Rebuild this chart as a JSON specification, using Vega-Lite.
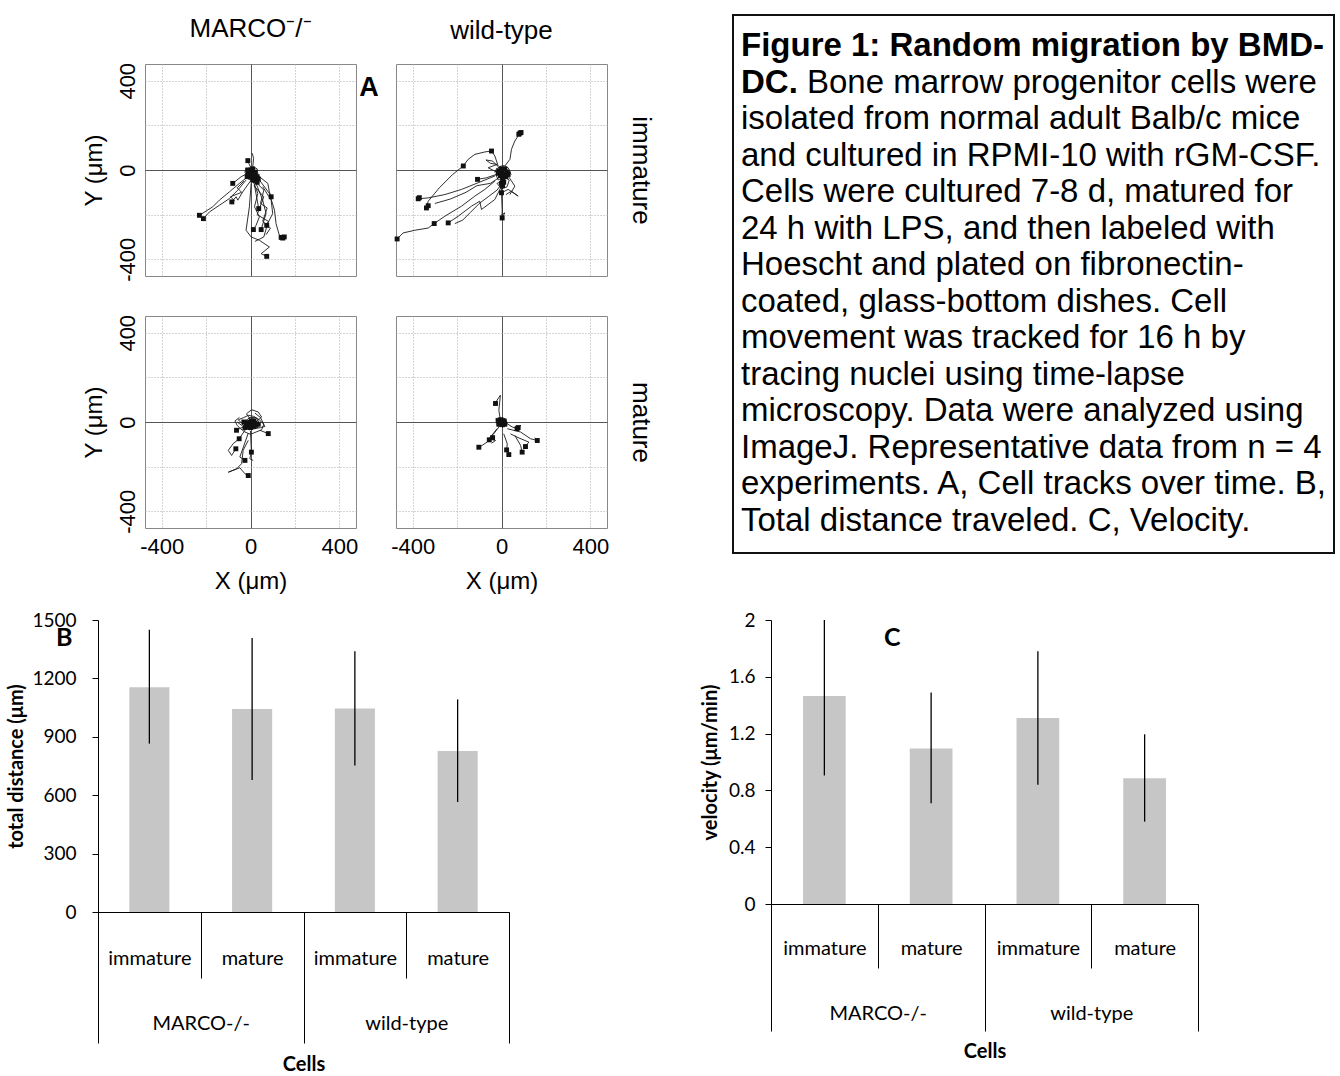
{
 "$schema": "https://vega.github.io/schema/vega-lite/v6.json",
 "padding": {"left": 5, "top": 13, "right": 0, "bottom": 0},
 "background": "white",
 "config": {"view": {"stroke": null}, "font": "Liberation Sans", "axis": {"labelColor": "black", "titleColor": "black", "titleFontWeight": "normal"}},
 "datasets": {
  "tracks": [
   {"p":"MI","t":1,"x":-12,"y":-30},{"p":"MI","t":1,"x":-50,"y":-60},{"p":"MI","t":1,"x":-95,"y":-98},{"p":"MI","t":1,"x":-140,"y":-135},{"p":"MI","t":1,"x":-170,"y":-165},{"p":"MI","t":1,"x":-230,"y":-203},
   {"p":"MI","t":2,"x":-20,"y":-45},{"p":"MI","t":2,"x":-57,"y":-90},{"p":"MI","t":2,"x":-95,"y":-128},{"p":"MI","t":2,"x":-140,"y":-158},{"p":"MI","t":2,"x":-185,"y":-188},{"p":"MI","t":2,"x":-212,"y":-218},
   {"p":"MI","t":3,"x":-12,"y":-15},{"p":"MI","t":3,"x":-42,"y":-30},{"p":"MI","t":3,"x":-80,"y":-60},
   {"p":"MI","t":4,"x":3,"y":-45},{"p":"MI","t":4,"x":-35,"y":-98},{"p":"MI","t":4,"x":-57,"y":-135},{"p":"MI","t":4,"x":-65,"y":-120},{"p":"MI","t":4,"x":-84,"y":-143},
   {"p":"MI","t":5,"x":3,"y":8},{"p":"MI","t":5,"x":-8,"y":30},{"p":"MI","t":5,"x":-12,"y":42},
   {"p":"MI","t":6,"x":10,"y":15},{"p":"MI","t":6,"x":14,"y":52},{"p":"MI","t":6,"x":8,"y":75},
   {"p":"MI","t":7,"x":10,"y":-45},{"p":"MI","t":7,"x":33,"y":-105},{"p":"MI","t":7,"x":18,"y":-165},{"p":"MI","t":7,"x":40,"y":-210},{"p":"MI","t":7,"x":25,"y":-248},{"p":"MI","t":7,"x":13,"y":-267},
   {"p":"MI","t":8,"x":25,"y":-60},{"p":"MI","t":8,"x":55,"y":-135},{"p":"MI","t":8,"x":70,"y":-195},{"p":"MI","t":8,"x":48,"y":-267},
   {"p":"MI","t":9,"x":40,"y":-45},{"p":"MI","t":9,"x":85,"y":-105},{"p":"MI","t":9,"x":108,"y":-180},{"p":"MI","t":9,"x":115,"y":-240},{"p":"MI","t":9,"x":130,"y":-293},{"p":"MI","t":9,"x":145,"y":-305},
   {"p":"MI","t":10,"x":3,"y":-60},{"p":"MI","t":10,"x":-5,"y":-165},{"p":"MI","t":10,"x":-20,"y":-270},{"p":"MI","t":10,"x":3,"y":-300},{"p":"MI","t":10,"x":40,"y":-315},{"p":"MI","t":10,"x":85,"y":-345},{"p":"MI","t":10,"x":48,"y":-375},{"p":"MI","t":10,"x":73,"y":-387},
   {"p":"MI","t":11,"x":55,"y":-75},{"p":"MI","t":11,"x":93,"y":-135},{"p":"MI","t":11,"x":100,"y":-195},{"p":"MI","t":11,"x":73,"y":-248},
   {"p":"MI","t":12,"x":18,"y":-68},{"p":"MI","t":12,"x":37,"y":-173},
   {"p":"MI","t":13,"x":40,"y":-30},{"p":"MI","t":13,"x":78,"y":-60},{"p":"MI","t":13,"x":85,"y":-98},{"p":"MI","t":13,"x":93,"y":-120},
   {"p":"MI","t":14,"x":0,"y":0},{"p":"MI","t":14,"x":10,"y":-12},{"p":"MI","t":14,"x":-8,"y":-20},{"p":"MI","t":14,"x":15,"y":-30},{"p":"MI","t":14,"x":-5,"y":-8},{"p":"MI","t":14,"x":20,"y":-5},{"p":"MI","t":14,"x":5,"y":-25},{"p":"MI","t":14,"x":-15,"y":-15},{"p":"MI","t":14,"x":25,"y":-20},{"p":"MI","t":14,"x":0,"y":-35},{"p":"MI","t":14,"x":12,"y":-2},
   {"p":"MI","t":15,"x":5,"y":-10},{"p":"MI","t":15,"x":-12,"y":-5},{"p":"MI","t":15,"x":-18,"y":-25},{"p":"MI","t":15,"x":8,"y":-40},{"p":"MI","t":15,"x":22,"y":-35},{"p":"MI","t":15,"x":30,"y":-15},{"p":"MI","t":15,"x":10,"y":-20},{"p":"MI","t":15,"x":-5,"y":-30},{"p":"MI","t":15,"x":18,"y":-8},
   {"p":"MI","t":16,"x":20,"y":-40},{"p":"MI","t":16,"x":35,"y":-50},{"p":"MI","t":16,"x":25,"y":-60},{"p":"MI","t":16,"x":10,"y":-55},{"p":"MI","t":16,"x":30,"y":-35},{"p":"MI","t":16,"x":40,"y":-45},{"p":"MI","t":16,"x":15,"y":-50},{"p":"MI","t":16,"x":5,"y":-45},
   {"p":"MI","t":17,"x":-10,"y":-10},{"p":"MI","t":17,"x":-20,"y":0},{"p":"MI","t":17,"x":-5,"y":5},{"p":"MI","t":17,"x":10,"y":0},{"p":"MI","t":17,"x":0,"y":-15},{"p":"MI","t":17,"x":-15,"y":-25},{"p":"MI","t":17,"x":5,"y":-5},{"p":"MI","t":17,"x":20,"y":-25},
   {"p":"MI","t":18,"x":30,"y":-60},{"p":"MI","t":18,"x":60,"y":-90},{"p":"MI","t":18,"x":45,"y":-150},{"p":"MI","t":18,"x":75,"y":-170},{"p":"MI","t":18,"x":55,"y":-230},{"p":"MI","t":18,"x":90,"y":-260},{"p":"MI","t":18,"x":70,"y":-290},
   {"p":"MI","t":19,"x":-30,"y":-50},{"p":"MI","t":19,"x":-60,"y":-80},{"p":"MI","t":19,"x":-40,"y":-100},{"p":"MI","t":19,"x":-90,"y":-120},{"p":"MI","t":19,"x":-70,"y":-140},
   {"p":"MI","t":20,"x":15,"y":-70},{"p":"MI","t":20,"x":60,"y":-120},{"p":"MI","t":20,"x":30,"y":-200},{"p":"MI","t":20,"x":80,"y":-230},{"p":"MI","t":20,"x":60,"y":-300},{"p":"MI","t":20,"x":20,"y":-320},
   {"p":"MI","t":21,"x":-20,"y":10},{"p":"MI","t":21,"x":-25,"y":-10},{"p":"MI","t":21,"x":-10,"y":-40},{"p":"MI","t":21,"x":15,"y":-50},{"p":"MI","t":21,"x":35,"y":-30},{"p":"MI","t":21,"x":30,"y":5},{"p":"MI","t":21,"x":10,"y":15},{"p":"MI","t":21,"x":-5,"y":0},{"p":"MI","t":21,"x":20,"y":-15},{"p":"MI","t":21,"x":0,"y":-25},

   {"p":"WI","t":1,"x":15,"y":18},{"p":"WI","t":1,"x":38,"y":48},{"p":"WI","t":1,"x":45,"y":93},{"p":"WI","t":1,"x":60,"y":130},{"p":"WI","t":1,"x":83,"y":165},{"p":"WI","t":1,"x":75,"y":160},{"p":"WI","t":1,"x":90,"y":170},
   {"p":"WI","t":2,"x":-15,"y":18},{"p":"WI","t":2,"x":-30,"y":63},{"p":"WI","t":2,"x":-45,"y":85},{"p":"WI","t":2,"x":-75,"y":81},{"p":"WI","t":2,"x":-120,"y":70},{"p":"WI","t":2,"x":-150,"y":48},{"p":"WI","t":2,"x":-172,"y":18},
   {"p":"WI","t":3,"x":-23,"y":-20},{"p":"WI","t":3,"x":-68,"y":-35},{"p":"WI","t":3,"x":-108,"y":-42},
   {"p":"WI","t":4,"x":-30,"y":-27},{"p":"WI","t":4,"x":-105,"y":-57},{"p":"WI","t":4,"x":-180,"y":-87},{"p":"WI","t":4,"x":-255,"y":-110},{"p":"WI","t":4,"x":-330,"y":-125},{"p":"WI","t":4,"x":-375,"y":-129},{"p":"WI","t":4,"x":-365,"y":-120},{"p":"WI","t":4,"x":-380,"y":-135},
   {"p":"WI","t":5,"x":-172,"y":18},{"p":"WI","t":5,"x":-220,"y":-20},{"p":"WI","t":5,"x":-280,"y":-80},{"p":"WI","t":5,"x":-330,"y":-140},{"p":"WI","t":5,"x":-338,"y":-170},{"p":"WI","t":5,"x":-325,"y":-155},
   {"p":"WI","t":6,"x":-470,"y":-309},{"p":"WI","t":6,"x":-443,"y":-282},{"p":"WI","t":6,"x":-390,"y":-270},{"p":"WI","t":6,"x":-330,"y":-260},{"p":"WI","t":6,"x":-303,"y":-240},{"p":"WI","t":6,"x":-255,"y":-207},{"p":"WI","t":6,"x":-180,"y":-162},{"p":"WI","t":6,"x":-120,"y":-117},{"p":"WI","t":6,"x":-75,"y":-87},{"p":"WI","t":6,"x":-30,"y":-50},
   {"p":"WI","t":7,"x":-240,"y":-237},{"p":"WI","t":7,"x":-195,"y":-207},{"p":"WI","t":7,"x":-135,"y":-162},{"p":"WI","t":7,"x":-98,"y":-140},{"p":"WI","t":7,"x":-90,"y":-177},{"p":"WI","t":7,"x":-30,"y":-132},{"p":"WI","t":7,"x":0,"y":-72},
   {"p":"WI","t":8,"x":-3,"y":-27},{"p":"WI","t":8,"x":0,"y":-102},{"p":"WI","t":8,"x":3,"y":-177},{"p":"WI","t":8,"x":3,"y":-215},{"p":"WI","t":8,"x":15,"y":-192},{"p":"WI","t":8,"x":-5,"y":-205},
   {"p":"WI","t":9,"x":0,"y":-102},{"p":"WI","t":9,"x":30,"y":-87},{"p":"WI","t":9,"x":75,"y":-117},{"p":"WI","t":9,"x":45,"y":-95},{"p":"WI","t":9,"x":20,"y":-110},
   {"p":"WI","t":10,"x":30,"y":-27},{"p":"WI","t":10,"x":60,"y":-72},{"p":"WI","t":10,"x":38,"y":-110},
   {"p":"WI","t":11,"x":0,"y":0},{"p":"WI","t":11,"x":15,"y":-10},{"p":"WI","t":11,"x":-10,"y":-20},{"p":"WI","t":11,"x":20,"y":-30},{"p":"WI","t":11,"x":5,"y":-5},{"p":"WI","t":11,"x":-15,"y":5},{"p":"WI","t":11,"x":25,"y":-15},{"p":"WI","t":11,"x":10,"y":-35},{"p":"WI","t":11,"x":-5,"y":-25},{"p":"WI","t":11,"x":30,"y":0},
   {"p":"WI","t":12,"x":10,"y":-40},{"p":"WI","t":12,"x":0,"y":-55},{"p":"WI","t":12,"x":15,"y":-65},{"p":"WI","t":12,"x":-5,"y":-50},{"p":"WI","t":12,"x":20,"y":-45},{"p":"WI","t":12,"x":5,"y":-70},{"p":"WI","t":12,"x":-10,"y":-60},
   {"p":"WI","t":13,"x":-20,"y":10},{"p":"WI","t":13,"x":-30,"y":-10},{"p":"WI","t":13,"x":-10,"y":15},{"p":"WI","t":13,"x":10,"y":20},{"p":"WI","t":13,"x":30,"y":10},{"p":"WI","t":13,"x":40,"y":-10},{"p":"WI","t":13,"x":20,"y":5},{"p":"WI","t":13,"x":45,"y":-20},
   {"p":"WI","t":14,"x":-10,"y":10},{"p":"WI","t":14,"x":-40,"y":40},{"p":"WI","t":14,"x":-70,"y":45},{"p":"WI","t":14,"x":-50,"y":30},{"p":"WI","t":14,"x":-20,"y":25},{"p":"WI","t":14,"x":-60,"y":10},{"p":"WI","t":14,"x":-30,"y":-5},
   {"p":"WI","t":15,"x":10,"y":-50},{"p":"WI","t":15,"x":-20,"y":-90},{"p":"WI","t":15,"x":-60,"y":-120},{"p":"WI","t":15,"x":-100,"y":-150},{"p":"WI","t":15,"x":-140,"y":-190},{"p":"WI","t":15,"x":-175,"y":-225},{"p":"WI","t":15,"x":-210,"y":-240},
   {"p":"WI","t":16,"x":-5,"y":-30},{"p":"WI","t":16,"x":-50,"y":-60},{"p":"WI","t":16,"x":-110,"y":-70},{"p":"WI","t":16,"x":-160,"y":-100},{"p":"WI","t":16,"x":-230,"y":-130},{"p":"WI","t":16,"x":-300,"y":-150},
   {"p":"WI","t":17,"x":-25,"y":-20},{"p":"WI","t":17,"x":-15,"y":-45},{"p":"WI","t":17,"x":10,"y":-30},{"p":"WI","t":17,"x":35,"y":-45},{"p":"WI","t":17,"x":25,"y":-75},{"p":"WI","t":17,"x":0,"y":-85},{"p":"WI","t":17,"x":-20,"y":-60},{"p":"WI","t":17,"x":5,"y":-50},

   {"p":"MM","t":1,"x":0,"y":10},{"p":"MM","t":1,"x":-18,"y":37},{"p":"MM","t":1,"x":5,"y":55},{"p":"MM","t":1,"x":35,"y":45},{"p":"MM","t":1,"x":50,"y":22},{"p":"MM","t":1,"x":30,"y":5},
   {"p":"MM","t":2,"x":-33,"y":-22},{"p":"MM","t":2,"x":-63,"y":-37},
   {"p":"MM","t":3,"x":42,"y":-37},{"p":"MM","t":3,"x":80,"y":-52},
   {"p":"MM","t":4,"x":-20,"y":-30},{"p":"MM","t":4,"x":-51,"y":-75},{"p":"MM","t":4,"x":-78,"y":-97},{"p":"MM","t":4,"x":-100,"y":-127},{"p":"MM","t":4,"x":-85,"y":-150},{"p":"MM","t":4,"x":-66,"y":-120},
   {"p":"MM","t":5,"x":0,"y":-40},{"p":"MM","t":5,"x":4,"y":-135},{"p":"MM","t":5,"x":-3,"y":-165},{"p":"MM","t":5,"x":12,"y":-172},
   {"p":"MM","t":6,"x":-10,"y":-50},{"p":"MM","t":6,"x":-48,"y":-157},{"p":"MM","t":6,"x":-25,"y":-172},
   {"p":"MM","t":7,"x":-10,"y":-82},{"p":"MM","t":7,"x":-33,"y":-127},{"p":"MM","t":7,"x":-40,"y":-187},{"p":"MM","t":7,"x":-63,"y":-210},{"p":"MM","t":7,"x":-100,"y":-225},{"p":"MM","t":7,"x":-48,"y":-205},{"p":"MM","t":7,"x":-25,"y":-232},{"p":"MM","t":7,"x":-10,"y":-240},
   {"p":"MM","t":8,"x":0,"y":0},{"p":"MM","t":8,"x":15,"y":-10},{"p":"MM","t":8,"x":-15,"y":-5},{"p":"MM","t":8,"x":25,"y":5},{"p":"MM","t":8,"x":-25,"y":-15},{"p":"MM","t":8,"x":10,"y":-25},{"p":"MM","t":8,"x":-5,"y":15},{"p":"MM","t":8,"x":30,"y":-20},{"p":"MM","t":8,"x":-20,"y":10},{"p":"MM","t":8,"x":5,"y":-15},{"p":"MM","t":8,"x":20,"y":15},
   {"p":"MM","t":9,"x":-40,"y":-5},{"p":"MM","t":9,"x":-55,"y":10},{"p":"MM","t":9,"x":-30,"y":20},{"p":"MM","t":9,"x":-10,"y":30},{"p":"MM","t":9,"x":15,"y":25},{"p":"MM","t":9,"x":40,"y":10},{"p":"MM","t":9,"x":55,"y":-5},{"p":"MM","t":9,"x":65,"y":-20},{"p":"MM","t":9,"x":45,"y":-25},{"p":"MM","t":9,"x":20,"y":-30},{"p":"MM","t":9,"x":-5,"y":-35},{"p":"MM","t":9,"x":-35,"y":-25},
   {"p":"MM","t":10,"x":0,"y":-10},{"p":"MM","t":10,"x":-12,"y":-20},{"p":"MM","t":10,"x":8,"y":5},{"p":"MM","t":10,"x":-8,"y":-2},{"p":"MM","t":10,"x":12,"y":-18},{"p":"MM","t":10,"x":-2,"y":8},{"p":"MM","t":10,"x":18,"y":-5},{"p":"MM","t":10,"x":-18,"y":-12},
   {"p":"MM","t":11,"x":-50,"y":20},{"p":"MM","t":11,"x":-70,"y":5},{"p":"MM","t":11,"x":-60,"y":-15},{"p":"MM","t":11,"x":-45,"y":-30},{"p":"MM","t":11,"x":-25,"y":-45},{"p":"MM","t":11,"x":0,"y":-55},{"p":"MM","t":11,"x":25,"y":-45},{"p":"MM","t":11,"x":50,"y":-35},{"p":"MM","t":11,"x":60,"y":-10},{"p":"MM","t":11,"x":45,"y":20},{"p":"MM","t":11,"x":20,"y":40},
   {"p":"MM","t":12,"x":-35,"y":10},{"p":"MM","t":12,"x":-15,"y":-25},{"p":"MM","t":12,"x":20,"y":-20},{"p":"MM","t":12,"x":40,"y":-5},{"p":"MM","t":12,"x":25,"y":20},{"p":"MM","t":12,"x":-5,"y":20},{"p":"MM","t":12,"x":-40,"y":-15},{"p":"MM","t":12,"x":-60,"y":0},

   {"p":"WM","t":1,"x":-5,"y":8},{"p":"WM","t":1,"x":-12,"y":53},{"p":"WM","t":1,"x":-8,"y":90},{"p":"WM","t":1,"x":-5,"y":120},{"p":"WM","t":1,"x":-20,"y":98},{"p":"WM","t":1,"x":-27,"y":83},
   {"p":"WM","t":2,"x":26,"y":-8},{"p":"WM","t":2,"x":48,"y":-22},{"p":"WM","t":2,"x":70,"y":-30},{"p":"WM","t":2,"x":86,"y":-15},{"p":"WM","t":2,"x":75,"y":-35},
   {"p":"WM","t":3,"x":26,"y":-30},{"p":"WM","t":3,"x":86,"y":-45},{"p":"WM","t":3,"x":131,"y":-75},{"p":"WM","t":3,"x":161,"y":-83},{"p":"WM","t":3,"x":150,"y":-70},
   {"p":"WM","t":4,"x":40,"y":-53},{"p":"WM","t":4,"x":70,"y":-68},{"p":"WM","t":4,"x":123,"y":-90},{"p":"WM","t":4,"x":108,"y":-110},
   {"p":"WM","t":5,"x":60,"y":-60},{"p":"WM","t":5,"x":86,"y":-105},{"p":"WM","t":5,"x":93,"y":-135},
   {"p":"WM","t":6,"x":10,"y":-53},{"p":"WM","t":6,"x":26,"y":-98},{"p":"WM","t":6,"x":23,"y":-125},{"p":"WM","t":6,"x":33,"y":-146},
   {"p":"WM","t":7,"x":-20,"y":-30},{"p":"WM","t":7,"x":-50,"y":-68},{"p":"WM","t":7,"x":-65,"y":-90},{"p":"WM","t":7,"x":-87,"y":-105},{"p":"WM","t":7,"x":-102,"y":-113},
   {"p":"WM","t":8,"x":-10,"y":-20},{"p":"WM","t":8,"x":-35,"y":-53},{"p":"WM","t":8,"x":-57,"y":-75},{"p":"WM","t":8,"x":-27,"y":-83},{"p":"WM","t":8,"x":-45,"y":-95},
   {"p":"WM","t":9,"x":0,"y":0},{"p":"WM","t":9,"x":10,"y":-8},{"p":"WM","t":9,"x":-10,"y":-5},{"p":"WM","t":9,"x":15,"y":5},{"p":"WM","t":9,"x":-15,"y":8},{"p":"WM","t":9,"x":5,"y":-15},{"p":"WM","t":9,"x":-5,"y":12},{"p":"WM","t":9,"x":12,"y":-12},{"p":"WM","t":9,"x":-12,"y":-12},{"p":"WM","t":9,"x":8,"y":10},
   {"p":"WM","t":10,"x":-20,"y":0},{"p":"WM","t":10,"x":-25,"y":15},{"p":"WM","t":10,"x":-8,"y":20},{"p":"WM","t":10,"x":10,"y":18},{"p":"WM","t":10,"x":22,"y":5},{"p":"WM","t":10,"x":25,"y":-10},{"p":"WM","t":10,"x":10,"y":-20},{"p":"WM","t":10,"x":-10,"y":-20},{"p":"WM","t":10,"x":-22,"y":-10},
   {"p":"WM","t":11,"x":0,"y":5},{"p":"WM","t":11,"x":-6,"y":-6},{"p":"WM","t":11,"x":6,"y":-3},{"p":"WM","t":11,"x":-3,"y":8},{"p":"WM","t":11,"x":8,"y":2},{"p":"WM","t":11,"x":-8,"y":0},
   {"p":"WM","t":12,"x":-15,"y":-15},{"p":"WM","t":12,"x":15,"y":-20},{"p":"WM","t":12,"x":20,"y":10},{"p":"WM","t":12,"x":-10,"y":15},{"p":"WM","t":12,"x":-25,"y":5},{"p":"WM","t":12,"x":5,"y":-25},{"p":"WM","t":12,"x":25,"y":-5}
  ],
  "dots": [
   {"p":"MI","x":-230,"y":-203},{"p":"MI","x":-212,"y":-218},{"p":"MI","x":-80,"y":-60},{"p":"MI","x":-84,"y":-143},{"p":"MI","x":-12,"y":42},{"p":"MI","x":13,"y":-267},{"p":"MI","x":48,"y":-267},{"p":"MI","x":145,"y":-305},{"p":"MI","x":152,"y":-300},{"p":"MI","x":138,"y":-302},{"p":"MI","x":73,"y":-387},{"p":"MI","x":73,"y":-248},{"p":"MI","x":37,"y":-173},{"p":"MI","x":93,"y":-120},
   {"p":"MI","x":-5,"y":-5},{"p":"MI","x":10,"y":-20},{"p":"MI","x":0,"y":-30},{"p":"MI","x":20,"y":-10},{"p":"MI","x":-10,"y":-15},{"p":"MI","x":15,"y":-35},{"p":"MI","x":25,"y":-45},{"p":"MI","x":30,"y":-55},{"p":"MI","x":5,"y":-10},{"p":"MI","x":-15,"y":-30},{"p":"MI","x":0,"y":0},{"p":"MI","x":10,"y":5},{"p":"MI","x":-12,"y":0},{"p":"MI","x":20,"y":-25},{"p":"MI","x":-5,"y":-20},{"p":"MI","x":30,"y":-30},{"p":"MI","x":35,"y":-40},{"p":"MI","x":10,"y":-45},
   {"p":"WI","x":83,"y":165},{"p":"WI","x":78,"y":160},{"p":"WI","x":88,"y":168},{"p":"WI","x":-45,"y":85},{"p":"WI","x":-172,"y":18},{"p":"WI","x":-108,"y":-42},{"p":"WI","x":-375,"y":-129},{"p":"WI","x":-370,"y":-124},{"p":"WI","x":-338,"y":-170},{"p":"WI","x":-330,"y":-160},{"p":"WI","x":-470,"y":-309},{"p":"WI","x":-303,"y":-240},{"p":"WI","x":-240,"y":-237},{"p":"WI","x":3,"y":-215},{"p":"WI","x":0,"y":-102},
   {"p":"WI","x":0,"y":-60},{"p":"WI","x":0,"y":-10},{"p":"WI","x":10,"y":-20},{"p":"WI","x":-10,"y":-5},{"p":"WI","x":15,"y":5},{"p":"WI","x":20,"y":-30},{"p":"WI","x":5,"y":-40},{"p":"WI","x":-5,"y":-25},{"p":"WI","x":25,"y":-10},{"p":"WI","x":0,"y":5},{"p":"WI","x":-15,"y":-15},{"p":"WI","x":30,"y":-20},{"p":"WI","x":10,"y":-55},{"p":"WI","x":5,"y":-70},
   {"p":"MM","x":-63,"y":-37},{"p":"MM","x":80,"y":-52},{"p":"MM","x":-51,"y":-75},{"p":"MM","x":-66,"y":-120},{"p":"MM","x":4,"y":-135},{"p":"MM","x":-25,"y":-172},{"p":"MM","x":-10,"y":-240},
   {"p":"MM","x":0,"y":0},{"p":"MM","x":10,"y":-10},{"p":"MM","x":-10,"y":-10},{"p":"MM","x":-20,"y":-5},{"p":"MM","x":15,"y":-20},{"p":"MM","x":-5,"y":-20},{"p":"MM","x":20,"y":-5},{"p":"MM","x":5,"y":5},{"p":"MM","x":-15,"y":-15},{"p":"MM","x":25,"y":-15},{"p":"MM","x":-30,"y":0},{"p":"MM","x":35,"y":-10},{"p":"MM","x":0,"y":-25},{"p":"MM","x":-25,"y":-25},{"p":"MM","x":15,"y":5},
   {"p":"WM","x":-27,"y":83},{"p":"WM","x":70,"y":-30},{"p":"WM","x":75,"y":-25},{"p":"WM","x":161,"y":-83},{"p":"WM","x":108,"y":-110},{"p":"WM","x":93,"y":-135},{"p":"WM","x":23,"y":-125},{"p":"WM","x":33,"y":-146},{"p":"WM","x":-102,"y":-113},
   {"p":"WM","x":0,"y":0},{"p":"WM","x":-10,"y":-5},{"p":"WM","x":10,"y":-5},{"p":"WM","x":5,"y":5},{"p":"WM","x":-5,"y":8},{"p":"WM","x":5,"y":-12},{"p":"WM","x":-12,"y":-10},{"p":"WM","x":12,"y":5},{"p":"WM","x":-40,"y":-70},{"p":"WM","x":-55,"y":-80},{"p":"WM","x":-15,"y":5},{"p":"WM","x":15,"y":-10}
  ],
  "caption": [
   {"line":1,"x":8,"w":"b","txt":"Figure 1: Random migration by BMD-"},
   {"line":2,"x":8,"w":"b","txt":"DC."},
   {"line":2,"x":74,"w":"n","txt":"Bone marrow progenitor cells were"},
   {"line":3,"x":8,"w":"n","txt":"isolated from normal adult Balb/c mice"},
   {"line":4,"x":8,"w":"n","txt":"and cultured in RPMI-10 with rGM-CSF."},
   {"line":5,"x":8,"w":"n","txt":"Cells were cultured 7-8 d, matured for"},
   {"line":6,"x":8,"w":"n","txt":"24 h with LPS, and then labeled with"},
   {"line":7,"x":8,"w":"n","txt":"Hoescht and plated on fibronectin-"},
   {"line":8,"x":8,"w":"n","txt":"coated, glass-bottom dishes. Cell"},
   {"line":9,"x":8,"w":"n","txt":"movement was tracked for 16 h by"},
   {"line":10,"x":8,"w":"n","txt":"tracing nuclei using time-lapse"},
   {"line":11,"x":8,"w":"n","txt":"microscopy. Data were analyzed using"},
   {"line":12,"x":8,"w":"n","txt":"ImageJ. Representative data from n = 4"},
   {"line":13,"x":8,"w":"n","txt":"experiments. A, Cell tracks over time. B,"},
   {"line":14,"x":8,"w":"n","txt":"Total distance traveled. C, Velocity."}
  ],
  "box": [{"x0": 0, "x1": 601, "y0": 0.15, "y1": 14.89}],
  "dist": [
   {"g":"MARCO-/-","k":"MARCO-/- immature","v":1155,"lo":865,"hi":1450},
   {"g":"MARCO-/-","k":"MARCO-/- mature","v":1043,"lo":678,"hi":1408},
   {"g":"wild-type","k":"wild-type immature","v":1045,"lo":752,"hi":1340},
   {"g":"wild-type","k":"wild-type mature","v":827,"lo":565,"hi":1092}
  ],
  "vel": [
   {"g":"MARCO-/-","k":"MARCO-/- immature","v":1.465,"lo":0.905,"hi":2.0},
   {"g":"MARCO-/-","k":"MARCO-/- mature","v":1.095,"lo":0.71,"hi":1.49},
   {"g":"wild-type","k":"wild-type immature","v":1.31,"lo":0.84,"hi":1.78},
   {"g":"wild-type","k":"wild-type mature","v":0.885,"lo":0.58,"hi":1.195}
  ]
 },
 "columns": 1,
 "align": "none",
 "spacing": 17,
 "concat": [
  {
   "columns": 4,
   "align": "none",
   "spacing": 0,
   "concat": [
    {"width": 76, "height": 1, "data": {"values": [{"a": 1}]}, "mark": {"type": "point", "opacity": 0, "size": 1}},
    {
     "columns": 2, "spacing": 40, "bounds": "flush",
     "concat": [
      {
       "width": 211, "height": 212,
       "view": {"stroke": "#888", "strokeWidth": 1},
       "title": {"text": "MARCO⁻/⁻", "frame": "group", "anchor": "middle", "fontSize": 26, "fontWeight": "normal", "font": "Liberation Sans", "color": "black", "offset": 20},
       "layer": [
        {"data": {"name": "tracks"}, "transform": [{"filter": "datum.p === 'MI'"}],
         "mark": {"type": "line", "color": "#1a1a1a", "strokeWidth": 0.9},
         "encoding": {
          "x": {"field": "x", "type": "quantitative", "scale": {"domain": [-475, 475], "nice": false, "zero": false},
                "axis": {"orient": "bottom", "values": [-400, -200, 0, 200, 400], "labels": false, "ticks": false, "domain": false, "title": null, "grid": true, "gridColor": {"condition": {"test": "datum.value === 0", "value": "#555"}, "value": "#aaa"}, "gridDash": {"condition": {"test": "datum.value === 0", "value": []}, "value": [1, 2]}}},
          "y": {"field": "y", "type": "quantitative", "scale": {"domain": [-475, 475], "nice": false, "zero": false},
                "axis": {"orient": "left", "values": [-400, -300, -200, -100, 0, 100, 200, 300, 400], "labelExpr": "datum.value % 400 === 0 ? '' + datum.value : ''", "labelAngle": -90, "labelAlign": "center", "labelBaseline": "bottom", "labelFontSize": 22, "labelPadding": 6, "ticks": false, "domain": false, "title": "Y (μm)", "titleFontSize": 24, "titlePadding": 10, "grid": true, "gridColor": {"condition": {"test": "datum.value === 0", "value": "#555"}, "value": "#aaa"}, "gridDash": {"condition": {"test": "datum.value === 0", "value": []}, "value": [1, 2]}}},
          "detail": {"field": "t", "type": "nominal"},
          "order": {"value": null}
         }},
        {"data": {"name": "dots"}, "transform": [{"filter": "datum.p === 'MI'"}],
         "mark": {"type": "square", "color": "#111", "size": 24, "opacity": 1},
         "encoding": {"x": {"field": "x", "type": "quantitative"}, "y": {"field": "y", "type": "quantitative"}}},
        {"data": {"values": [{"lab": "A", "x": 533, "y": 367}]},
         "mark": {"type": "text", "fontSize": 27, "fontWeight": "bold", "font": "Liberation Sans", "color": "black", "align": "center", "baseline": "middle"},
         "encoding": {"x": {"field": "x", "type": "quantitative"}, "y": {"field": "y", "type": "quantitative"}, "text": {"field": "lab"}}}
       ]
      },
      {
       "width": 211, "height": 212,
       "view": {"stroke": "#888", "strokeWidth": 1},
       "title": {"text": "wild-type", "frame": "group", "anchor": "middle", "fontSize": 26, "fontWeight": "normal", "font": "Liberation Sans", "color": "black", "offset": 20},
       "layer": [
        {"data": {"name": "tracks"}, "transform": [{"filter": "datum.p === 'WI'"}],
         "mark": {"type": "line", "color": "#1a1a1a", "strokeWidth": 0.9},
         "encoding": {
          "x": {"field": "x", "type": "quantitative", "scale": {"domain": [-475, 475], "nice": false, "zero": false},
                "axis": {"orient": "bottom", "values": [-400, -200, 0, 200, 400], "labels": false, "ticks": false, "domain": false, "title": null, "grid": true, "gridColor": {"condition": {"test": "datum.value === 0", "value": "#555"}, "value": "#aaa"}, "gridDash": {"condition": {"test": "datum.value === 0", "value": []}, "value": [1, 2]}}},
          "y": {"field": "y", "type": "quantitative", "scale": {"domain": [-475, 475], "nice": false, "zero": false},
                "axis": {"orient": "right", "values": [-400, -300, -200, -100, 0, 100, 200, 300, 400], "labels": false, "ticks": false, "domain": false, "title": "immature", "titleFontSize": 26, "titleAngle": 90, "titlePadding": 20, "grid": true, "gridColor": {"condition": {"test": "datum.value === 0", "value": "#555"}, "value": "#aaa"}, "gridDash": {"condition": {"test": "datum.value === 0", "value": []}, "value": [1, 2]}}},
          "detail": {"field": "t", "type": "nominal"},
          "order": {"value": null}
         }},
        {"data": {"name": "dots"}, "transform": [{"filter": "datum.p === 'WI'"}],
         "mark": {"type": "square", "color": "#111", "size": 24, "opacity": 1},
         "encoding": {"x": {"field": "x", "type": "quantitative"}, "y": {"field": "y", "type": "quantitative"}}}
       ]
      },
      {
       "width": 211, "height": 212,
       "view": {"stroke": "#888", "strokeWidth": 1},
       "layer": [
        {"data": {"name": "tracks"}, "transform": [{"filter": "datum.p === 'MM'"}],
         "mark": {"type": "line", "color": "#1a1a1a", "strokeWidth": 0.9},
         "encoding": {
          "x": {"field": "x", "type": "quantitative", "scale": {"domain": [-475, 475], "nice": false, "zero": false},
                "axis": {"orient": "bottom", "values": [-400, -200, 0, 200, 400], "labelExpr": "datum.value % 400 === 0 ? '' + datum.value : ''", "labelFontSize": 22, "labelPadding": 8, "ticks": false, "domain": false, "title": "X (μm)", "titleFontSize": 24, "titlePadding": 12, "grid": true, "gridColor": {"condition": {"test": "datum.value === 0", "value": "#555"}, "value": "#aaa"}, "gridDash": {"condition": {"test": "datum.value === 0", "value": []}, "value": [1, 2]}}},
          "y": {"field": "y", "type": "quantitative", "scale": {"domain": [-475, 475], "nice": false, "zero": false},
                "axis": {"orient": "left", "values": [-400, -300, -200, -100, 0, 100, 200, 300, 400], "labelExpr": "datum.value % 400 === 0 ? '' + datum.value : ''", "labelAngle": -90, "labelAlign": "center", "labelBaseline": "bottom", "labelFontSize": 22, "labelPadding": 6, "ticks": false, "domain": false, "title": "Y (μm)", "titleFontSize": 24, "titlePadding": 10, "grid": true, "gridColor": {"condition": {"test": "datum.value === 0", "value": "#555"}, "value": "#aaa"}, "gridDash": {"condition": {"test": "datum.value === 0", "value": []}, "value": [1, 2]}}},
          "detail": {"field": "t", "type": "nominal"},
          "order": {"value": null}
         }},
        {"data": {"name": "dots"}, "transform": [{"filter": "datum.p === 'MM'"}],
         "mark": {"type": "square", "color": "#111", "size": 24, "opacity": 1},
         "encoding": {"x": {"field": "x", "type": "quantitative"}, "y": {"field": "y", "type": "quantitative"}}}
       ]
      },
      {
       "width": 211, "height": 212,
       "view": {"stroke": "#888", "strokeWidth": 1},
       "layer": [
        {"data": {"name": "tracks"}, "transform": [{"filter": "datum.p === 'WM'"}],
         "mark": {"type": "line", "color": "#1a1a1a", "strokeWidth": 0.9},
         "encoding": {
          "x": {"field": "x", "type": "quantitative", "scale": {"domain": [-475, 475], "nice": false, "zero": false},
                "axis": {"orient": "bottom", "values": [-400, -200, 0, 200, 400], "labelExpr": "datum.value % 400 === 0 ? '' + datum.value : ''", "labelFontSize": 22, "labelPadding": 8, "ticks": false, "domain": false, "title": "X (μm)", "titleFontSize": 24, "titlePadding": 12, "grid": true, "gridColor": {"condition": {"test": "datum.value === 0", "value": "#555"}, "value": "#aaa"}, "gridDash": {"condition": {"test": "datum.value === 0", "value": []}, "value": [1, 2]}}},
          "y": {"field": "y", "type": "quantitative", "scale": {"domain": [-475, 475], "nice": false, "zero": false},
                "axis": {"orient": "right", "values": [-400, -300, -200, -100, 0, 100, 200, 300, 400], "labels": false, "ticks": false, "domain": false, "title": "mature", "titleFontSize": 26, "titleAngle": 90, "titlePadding": 20, "grid": true, "gridColor": {"condition": {"test": "datum.value === 0", "value": "#555"}, "value": "#aaa"}, "gridDash": {"condition": {"test": "datum.value === 0", "value": []}, "value": [1, 2]}}},
          "detail": {"field": "t", "type": "nominal"},
          "order": {"value": null}
         }},
        {"data": {"name": "dots"}, "transform": [{"filter": "datum.p === 'WM'"}],
         "mark": {"type": "square", "color": "#111", "size": 24, "opacity": 1},
         "encoding": {"x": {"field": "x", "type": "quantitative"}, "y": {"field": "y", "type": "quantitative"}}}
       ]
      }
     ]
    },
    {"width": 78, "height": 1, "data": {"values": [{"a": 1}]}, "mark": {"type": "point", "opacity": 0, "size": 1}},
    {
     "width": 601, "height": 489,
     "layer": [
      {"data": {"name": "box"},
       "mark": {"type": "rect", "filled": false, "stroke": "#111", "strokeWidth": 2},
       "encoding": {
        "x": {"field": "x0", "type": "quantitative", "scale": {"domain": [0, 601], "nice": false, "zero": false}, "axis": null},
        "x2": {"field": "x1"},
        "y": {"field": "y0", "type": "quantitative", "scale": {"domain": [1.493, 14.89], "reverse": true, "nice": false, "zero": false}, "axis": null},
        "y2": {"field": "y1"}}},
      {"data": {"name": "caption"}, "transform": [{"filter": "datum.w === 'b'"}],
       "mark": {"type": "text", "align": "left", "baseline": "middle", "fontSize": 33, "fontWeight": "bold", "font": "Liberation Sans", "color": "black"},
       "encoding": {
        "x": {"field": "x", "type": "quantitative", "scale": {"domain": [0, 601], "nice": false, "zero": false}, "axis": null},
        "y": {"field": "line", "type": "quantitative", "scale": {"domain": [1.493, 14.89], "reverse": true, "nice": false, "zero": false}, "axis": null},
        "text": {"field": "txt"}}},
      {"data": {"name": "caption"}, "transform": [{"filter": "datum.w === 'n'"}],
       "mark": {"type": "text", "align": "left", "baseline": "middle", "fontSize": 33, "fontWeight": "normal", "font": "Liberation Sans", "color": "black"},
       "encoding": {
        "x": {"field": "x", "type": "quantitative", "scale": {"domain": [0, 601], "nice": false, "zero": false}, "axis": null},
        "y": {"field": "line", "type": "quantitative", "scale": {"domain": [1.493, 14.89], "reverse": true, "nice": false, "zero": false}, "axis": null},
        "text": {"field": "txt"}}}
     ]
    }
   ]
  },
  {
   "columns": 4,
   "align": "none",
   "spacing": 0,
   "concat": [
    {"width": 1, "height": 1, "data": {"values": [{"a": 1}]}, "mark": {"type": "point", "opacity": 0, "size": 1}},
    {
     "width": 411, "height": 292,
     "title": {"text": "B", "anchor": "start", "frame": "group", "font": "Lato", "fontSize": 25, "fontWeight": "bold", "color": "black", "dx": -42, "dy": 40, "offset": 0},
     "layer": [
      {"data": {"name": "dist"},
       "layer": [
        {"mark": {"type": "bar", "color": "#c6c6c6", "width": {"band": 0.39}},
         "encoding": {
          "x": {"field": "k", "type": "nominal", "sort": null, "scale": {"paddingInner": 0, "paddingOuter": 0},
                "axis": {"orient": "bottom", "title": null, "labelExpr": "split(datum.label, ' ')[1]", "tickBand": "extent", "tickSize": 66, "tickColor": "black", "tickWidth": 1, "domainColor": "black", "domainWidth": 1, "labelPadding": -30, "labelFont": "Lato", "labelFontSize": 20, "labelColor": "black", "labelAngle": 0, "labelBaseline": "top"}},
          "y": {"field": "v", "type": "quantitative", "scale": {"domain": [0, 1500], "nice": false},
                "axis": {"values": [0, 300, 600, 900, 1200, 1500], "format": "d", "title": "total distance (μm)", "titleFont": "Lato", "titleFontSize": 20, "titleFontWeight": "bold", "titleColor": "black", "titlePadding": 5, "labelFont": "Lato", "labelFontSize": 19, "labelColor": "black", "labelPadding": 16, "tickSize": 6, "tickColor": "black", "domainColor": "black", "grid": false}}
         }},
        {"mark": {"type": "rule", "color": "black", "strokeWidth": 1.3},
         "encoding": {"x": {"field": "k", "type": "nominal", "sort": null}, "y": {"field": "lo", "type": "quantitative"}, "y2": {"field": "hi"}}}
       ]},
      {"data": {"name": "dist"},
       "mark": {"type": "bar", "opacity": 0},
       "encoding": {
        "x": {"field": "g", "type": "nominal", "sort": null, "scale": {"paddingInner": 0, "paddingOuter": 0},
              "axis": {"orient": "bottom", "title": "Cells", "titleFont": "Lato", "titleFontSize": 20, "titleFontWeight": "bold", "titleColor": "black", "titlePadding": 11, "tickBand": "extent", "tickSize": 131, "tickColor": "black", "tickWidth": 1, "domain": false, "labelPadding": -30, "labelFont": "Lato", "labelFontSize": 20, "labelColor": "black", "labelAngle": 0, "labelBaseline": "top"}},
        "y": {"datum": 0, "type": "quantitative"}}}
     ],
     "resolve": {"scale": {"x": "independent"}, "axis": {"x": "independent"}}
    },
    {"width": 190, "height": 1, "data": {"values": [{"a": 1}]}, "mark": {"type": "point", "opacity": 0, "size": 1}},
    {
     "width": 427, "height": 284,
     "title": {"text": "C", "anchor": "start", "frame": "group", "font": "Lato", "fontSize": 25, "fontWeight": "bold", "color": "black", "dx": 113, "dy": 40, "offset": 0},
     "layer": [
      {"data": {"name": "vel"},
       "layer": [
        {"mark": {"type": "bar", "color": "#c6c6c6", "width": {"band": 0.4}},
         "encoding": {
          "x": {"field": "k", "type": "nominal", "sort": null, "scale": {"paddingInner": 0, "paddingOuter": 0},
                "axis": {"orient": "bottom", "title": null, "labelExpr": "split(datum.label, ' ')[1]", "tickBand": "extent", "tickSize": 64, "tickColor": "black", "tickWidth": 1, "domainColor": "black", "domainWidth": 1, "labelPadding": -30, "labelFont": "Lato", "labelFontSize": 20, "labelColor": "black", "labelAngle": 0, "labelBaseline": "top"}},
          "y": {"field": "v", "type": "quantitative", "scale": {"domain": [0, 2], "nice": false},
                "axis": {"values": [0, 0.4, 0.8, 1.2, 1.6, 2], "labelExpr": "datum.value === 0 ? '0' : datum.value === 2 ? '2' : format(datum.value, '.1f')", "title": "velocity (μm/min)", "titleFont": "Lato", "titleFontSize": 20, "titleFontWeight": "bold", "titleColor": "black", "titlePadding": 8, "labelFont": "Lato", "labelFontSize": 19, "labelColor": "black", "labelPadding": 10, "tickSize": 6, "tickColor": "black", "domainColor": "black", "grid": false}}
         }},
        {"mark": {"type": "rule", "color": "black", "strokeWidth": 1.3},
         "encoding": {"x": {"field": "k", "type": "nominal", "sort": null}, "y": {"field": "lo", "type": "quantitative"}, "y2": {"field": "hi"}}}
       ]},
      {"data": {"name": "vel"},
       "mark": {"type": "bar", "opacity": 0},
       "encoding": {
        "x": {"field": "g", "type": "nominal", "sort": null, "scale": {"paddingInner": 0, "paddingOuter": 0},
              "axis": {"orient": "bottom", "title": "Cells", "titleFont": "Lato", "titleFontSize": 20, "titleFontWeight": "bold", "titleColor": "black", "titlePadding": 10, "tickBand": "extent", "tickSize": 127, "tickColor": "black", "tickWidth": 1, "domain": false, "labelPadding": -28, "labelFont": "Lato", "labelFontSize": 20, "labelColor": "black", "labelAngle": 0, "labelBaseline": "top"}},
        "y": {"datum": 0, "type": "quantitative"}}}
     ],
     "resolve": {"scale": {"x": "independent"}, "axis": {"x": "independent"}}
    }
   ]
  }
 ]
}
